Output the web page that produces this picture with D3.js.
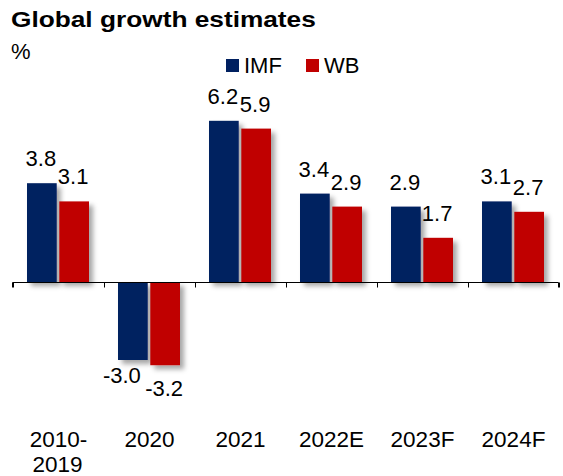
<!DOCTYPE html>
<html>
<head>
<meta charset="utf-8">
<script src="https://cdn.jsdelivr.net/npm/d3@7"></script>
<style>
  html, body { margin: 0; padding: 0; background: #fff; }
  svg { display: block; font-family: "Liberation Sans", Arial, sans-serif; }
</style>
</head>
<body>
<svg id="chart" width="563" height="476"></svg>
<script>
// ---- data ----
const categories = ["2010-\n2019", "2020", "2021", "2022E", "2023F", "2024F"];
const seriesNames = ["IMF", "WB"];
const imfValues = [3.8, -3.0, 6.2, 3.4, 2.9, 3.1];
const wbValues  = [3.1, -3.2, 5.9, 2.9, 1.7, 2.7];
const seriesColors = ["#002060", "#C00000"];
const titleText = "Global growth estimates";
const unitText = "%";

const svg = d3.select("#chart");

// drop shadow
const defs = svg.append("defs");
const f = defs.append("filter").attr("id", "shadow")
  .attr("x", "-30%").attr("y", "-30%").attr("width", "180%").attr("height", "160%");
f.append("feDropShadow").attr("dx", 4).attr("dy", 4).attr("stdDeviation", 2.5)
  .attr("flood-color", "#000").attr("flood-opacity", 0.35);

// scales
const x = d3.scaleBand().domain(categories).range([13, 559]).paddingInner(0).paddingOuter(0);
const xs = d3.scaleBand().domain(seriesNames).range([14, 76]).paddingInner(0.08);
const y = d3.scaleLinear().domain([-3.5, 6.5]).range([373, 113]);

const rows = categories.map((c, i) => ({ cat: c, i, vals: [imfValues[i], wbValues[i]] }));

// bars
const groups = svg.append("g").selectAll("g").data(rows).join("g")
  .attr("transform", d => `translate(${x(d.cat)},0)`);

groups.selectAll("rect")
  .data(d => d.vals.map((v, k) => ({ v, k, s: seriesNames[k] })))
  .join("rect")
  .attr("x", d => xs(d.s))
  .attr("width", xs.bandwidth())
  .attr("y", d => y(Math.max(0, d.v)))
  .attr("height", d => Math.abs(y(d.v) - y(0)))
  .attr("fill", d => seriesColors[d.k])
  .attr("filter", "url(#shadow)");

// axis
const axis = d3.axisBottom(x).tickSize(5).tickFormat("");
const axG = svg.append("g").attr("transform", `translate(0,${Math.round(y(0)) + 0.5})`).call(axis);
axG.select(".domain").attr("d", `M12.5,5V0H558.5V5`).attr("stroke", "#000");
axG.selectAll(".tick").remove();
const bounds = categories.map(c => x(c)).concat([x.range()[1]]);
axG.selectAll("line.bt").data(bounds).join("line").attr("class", "bt")
  .attr("x1", d => Math.round(d) + 0.5).attr("x2", d => Math.round(d) + 0.5)
  .attr("y1", 0).attr("y2", 5).attr("stroke", "#000");

// category labels
const catG = svg.append("g");
rows.forEach(d => {
  const lines = d.cat.split("\n");
  const cx = x(d.cat) + x.bandwidth() / 2;
  const t = catG.append("text")
    .attr("x", cx)
    .attr("y", 447)
    .attr("text-anchor", "middle")
    .attr("font-size", 22.5)
    .attr("fill", "#000");
  lines.forEach((ln, j) => {
    t.append("tspan").attr("x", cx - (j === 1 ? 1 : 0))
      .attr("dy", j === 0 ? 0 : 25).text(ln);
  });
});

// value labels
const fmt = v => d3.format(".1f")(v).replace("\u2212", "-");
groups.selectAll("text.val")
  .data(d => d.vals.map((v, k) => ({ v, k, s: seriesNames[k], i: d.i })))
  .join("text").attr("class", "val")
  .attr("x", d => xs(d.s) + xs.bandwidth() / 2 + (d.v < 0 && d.k === 0 ? -10 : 0) - 1)
  .attr("y", d => d.v >= 0 ? y(d.v) - 17 : y(d.v) + (d.k === 0 ? 23 : 31))
  .attr("text-anchor", "middle")
  .attr("font-size", 22)
  .attr("fill", "#000")
  .text(d => fmt(d.v));

// title (horizontally widened to match reference)
const title = svg.append("text")
  .attr("font-size", 22.5).attr("font-weight", "bold").attr("fill", "#000")
  .text(titleText);
const tw = title.node().getComputedTextLength();
title.attr("transform", `translate(11,27) scale(${305 / tw},1)`);
svg.append("text").attr("x", 11).attr("y", 59)
  .attr("font-size", 22).attr("fill", "#000").text(unitText);

// legend
const legX = [226, 306];
const leg = svg.append("g");
seriesNames.forEach((s, k) => {
  leg.append("rect").attr("x", legX[k]).attr("y", 59).attr("width", 13).attr("height", 13)
    .attr("fill", seriesColors[k]);
  leg.append("text").attr("x", legX[k] + 18).attr("y", 73)
    .attr("font-size", 22).attr("fill", "#000").text(s);
});
</script>
</body>
</html>
